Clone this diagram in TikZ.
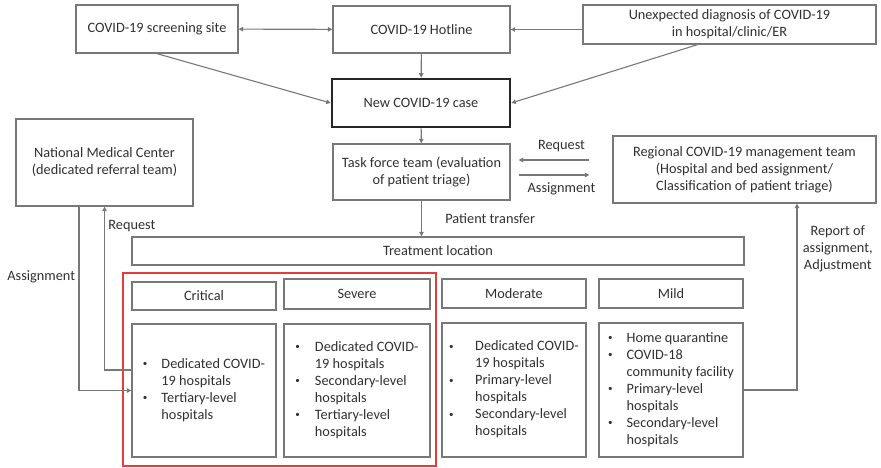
\documentclass[tikz,border=0pt]{standalone}
\usepackage{fontspec}
\setmainfont{Carlito}
\usepackage{tikz}
\usetikzlibrary{arrows.meta}
\definecolor{ink}{RGB}{48,48,48}
\definecolor{frame}{RGB}{120,120,120}
\definecolor{alert}{RGB}{232,60,56}
% small list bullet and the bullet list of hospital types
\newcommand{\bul}{{\fontsize{9}{9}\selectfont\raisebox{1.6pt}{•}}}
\newcommand{\hosplist}[2][18.5pt]{\begin{tabular}{@{}p{#1}@{}l@{}}#2\end{tabular}}

\begin{document}
\begin{tikzpicture}[x=1pt,y=-1pt,font=\fontsize{14.3}{17}\selectfont,text=ink,
  box/.style={draw=frame,line width=1.3pt,align=center,inner sep=2pt},
  arr/.style={draw=frame,line width=1.1pt,-{Triangle[length=4.5pt,width=4.5pt]}}]
 \useasboundingbox (0,0) rectangle (881,468);
 % entry points
 \node[box,minimum width=162pt,minimum height=48pt] (screen) at (157,29) {COVID-19 screening site};
 \node[box,minimum width=177pt,minimum height=47pt] (hotline) at (421.5,29.5) {COVID-19 Hotline};
 \node[box,minimum width=293pt,minimum height=39pt] (unexp) at (729.5,24.5) {Unexpected diagnosis of COVID-19\\in hospital/clinic/ER};
 \node[box,draw=black!85,line width=2.6pt,minimum width=178pt,minimum height=48pt] (newcase) at (421,103) {New COVID-19 case};
 \node[box,minimum width=177pt,minimum height=56pt] (task) at (421.5,172) {Task force team (evaluation\\of patient triage)};
 \node[box,minimum width=177pt,minimum height=87pt] (nmc) at (104.5,162.5) {National Medical Center\\(dedicated referral team)};
 \node[box,minimum width=263pt,minimum height=67pt] (regional) at (744.5,169.5) {Regional COVID-19 management team\\(Hospital and bed assignment/\\Classification of patient triage)};
 \node[box,minimum width=612pt,minimum height=28pt] (treat) at (438,251) {Treatment location};
 % triage groups
 \node[draw=alert,line width=1.3pt,minimum width=313pt,minimum height=193pt] (hospgrp) at (279.5,369.5) {};
 \node[box,minimum width=144pt,minimum height=28pt] (crit) at (204,296) {Critical};
 \node[box,minimum width=146pt,minimum height=30pt] (sev) at (357,294) {Severe};
 \node[box,minimum width=144pt,minimum height=29pt] (mod) at (514,293.5) {Moderate};
 \node[box,minimum width=144pt,minimum height=29pt] (mild) at (671,293.5) {Mild};
 \node[box,minimum width=144pt,minimum height=133pt] (critL) at (204,390.5)
  {\hosplist{\bul & Dedicated COVID-\\ & 19 hospitals\\ \bul & Tertiary-level\\ & hospitals}};
 \node[box,minimum width=146pt,minimum height=133pt] (sevL) at (357,390.5)
  {\hosplist[19.5pt]{\bul & Dedicated COVID-\\ & 19 hospitals\\ \bul & Secondary-level\\ & hospitals\\ \bul & Tertiary-level\\ & hospitals}};
 \node[box,minimum width=144pt,minimum height=134pt] (modL) at (514,390)
  {\hosplist[26pt]{\bul & Dedicated COVID-\\ & 19 hospitals\\ \bul & Primary-level\\ & hospitals\\ \bul & Secondary-level\\ & hospitals}};
 \node[box,minimum width=144pt,minimum height=134pt] (mildL) at (671,390)
  {\hosplist{\bul & Home quarantine\\ \bul & COVID-18\\ & community facility\\ \bul & Primary-level\\ & hospitals\\ \bul & Secondary-level\\ & hospitals}};

 % connectors
 \draw[arr,{Triangle[length=4.5pt,width=4.5pt]}-{Triangle[length=4.5pt,width=4.5pt]}] (screen) -- (hotline);
 \draw[arr] (hotline.east -| unexp.west) -- (hotline.east);
 \draw[arr] (hotline) -- (newcase);
 \draw[arr] (screen.south) -- (newcase.west);
 \draw[arr] ([xshift=-32pt]unexp.south) -- (newcase.east);
 \draw[arr] (newcase) -- (task);
 \draw[arr] (task.south) -- (task.south |- treat.north)
  node[midway,right,xshift=20pt] {Patient transfer};
 \draw[arr,shorten <=23pt,shorten >=8pt] ([yshift=12pt]task.east -| regional.west) -- ([yshift=12pt]task.east)
  node[midway,above=4pt] {Request};
 \draw[arr,shorten <=8pt,shorten >=23pt] ([yshift=-3pt]task.east) -- ([yshift=-3pt]task.east -| regional.west)
  node[midway,below=4pt] {Assignment};
 \draw[arr] ([xshift=-25.5pt]nmc.south) |- (critL.west)
  node[pos=0.19,left] {Assignment};
 \draw[arr] ([yshift=20.5pt]critL.west) -| (nmc.south)
  node[pos=0.94,right] {Request};
 \draw[arr] (mildL.east) -| ([xshift=52.5pt]regional.south)
  node[pos=0.88,right,align=center,xshift=2pt] {Report of\\assignment,\\Adjustment};
\end{tikzpicture}
\end{document}
